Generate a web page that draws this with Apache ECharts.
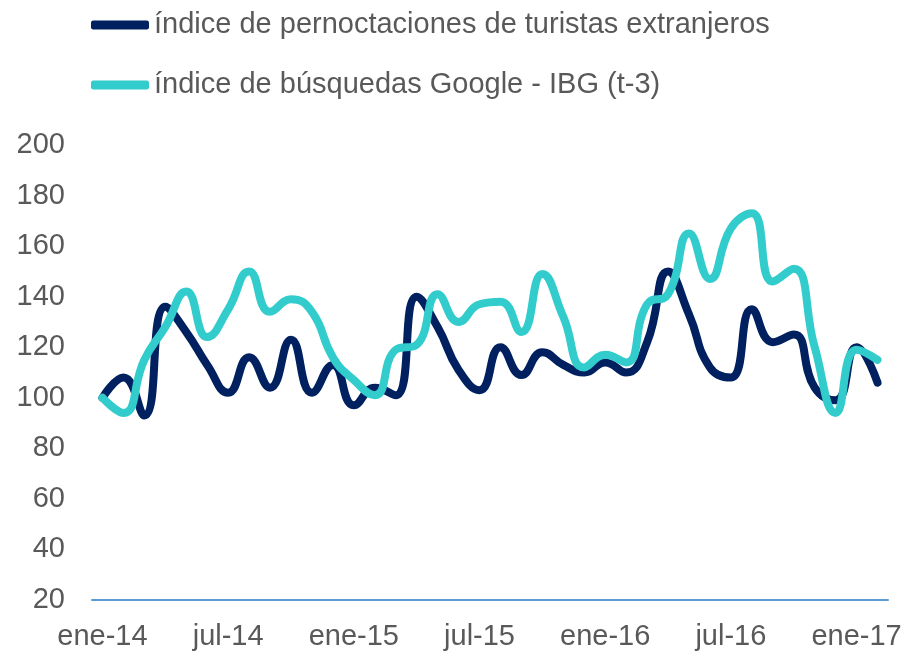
<!DOCTYPE html>
<html>
<head>
<meta charset="utf-8">
<script src="https://cdn.jsdelivr.net/npm/echarts@6/dist/echarts.min.js"></script>
<style>
  html, body { margin: 0; padding: 0; background: #fff; }
  #chart { width: 921px; height: 653px; }
</style>
</head>
<body>
<div id="chart"></div>
<script>
// meses ene-14 .. feb-17
var meses = ['ene-14','feb-14','mar-14','abr-14','may-14','jun-14','jul-14','ago-14','sep-14','oct-14','nov-14','dic-14',
  'ene-15','feb-15','mar-15','abr-15','may-15','jun-15','jul-15','ago-15','sep-15','oct-15','nov-15','dic-15',
  'ene-16','feb-16','mar-16','abr-16','may-16','jun-16','jul-16','ago-16','sep-16','oct-16','nov-16','dic-16',
  'ene-17','feb-17'];

var pernoctaciones = [100,108,93,136,126,113,102,116,104,123,102,113,
  97,104,101,140,128,111,103,120,109,118,113,110,
  114,110,122,150,133,112,108,135,122,125,104,99,
  120,106];

var busquedas = [100,94,115,128,142,124,135,150,134,139,134,116,
  107,101,119,121,141,130,137,138,126,149,132,112,
  117,114,137,141,165,147,167,173,146,151,120,94,
  119,115];

var nombres = ['índice de pernoctaciones de turistas extranjeros', 'índice de búsquedas Google - IBG (t-3)'];

var myChart = echarts.init(document.getElementById('chart'));

var fuente = 'Liberation Sans, Arial, sans-serif';

var option = {
  animation: false,
  color: ['#002060', '#33CCCC'],
  legend: {
    orient: 'vertical',
    left: 86,
    top: 5,
    itemWidth: 58,
    itemHeight: 9,
    itemGap: 30,
    icon: 'roundRect',
    data: nombres,
    textStyle: { fontFamily: fuente, fontSize: 29, color: '#595959', lineHeight: 30 }
  },
  grid: { left: 92, right: 33, top: 145, bottom: 53 },
  xAxis: {
    type: 'category',
    data: meses,
    boundaryGap: true,
    axisLine: { lineStyle: { color: '#5B9BD5', width: 2 } },
    axisTick: { show: false },
    axisLabel: { interval: 5, margin: 22, fontFamily: fuente, fontSize: 29, color: '#595959' }
  },
  yAxis: {
    type: 'value',
    min: 20,
    max: 200,
    interval: 20,
    axisLine: { show: false },
    axisTick: { show: false },
    splitLine: { show: false },
    axisLabel: { margin: 27, fontFamily: fuente, fontSize: 29, color: '#595959' }
  },
  series: [
    {
      name: nombres[0],
      type: 'line',
      data: pernoctaciones,
      smooth: 0.5,
      showSymbol: false,
      lineStyle: { width: 8, cap: 'round', join: 'round' }
    },
    {
      name: nombres[1],
      type: 'line',
      data: busquedas,
      smooth: 0.5,
      showSymbol: false,
      lineStyle: { width: 8, cap: 'round', join: 'round' }
    }
  ]
};

myChart.setOption(option);
window.addEventListener('resize', function () {
  myChart.resize();
});
</script>
</body>
</html>
